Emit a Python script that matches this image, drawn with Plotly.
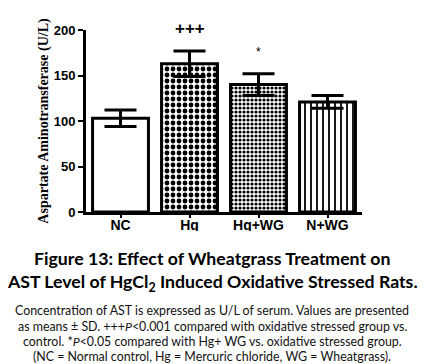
import plotly.graph_objects as go

groups = ["NC", "Hg", "Hg+WG", "N+WG"]
means = [103, 163, 140, 121]
sds = [9, 14, 12, 7]
sig_marks = ["", "+++", "*", ""]
y_ticks = [0, 50, 100, 150, 200]

patterns = [
    dict(shape="", bgcolor="white"),
    dict(shape=".", size=6, solidity=0.5, fgcolor="black", bgcolor="white", fillmode="replace"),
    dict(shape=".", size=4, solidity=0.5, fgcolor="black", bgcolor="white", fillmode="replace"),
    dict(shape="|", size=6, solidity=0.3, fgcolor="black", bgcolor="white", fillmode="replace"),
]

fig = go.Figure()
for g, m, s, p in zip(groups, means, sds, patterns):
    fig.add_trace(go.Bar(
        x=[g], y=[m],
        marker=dict(color="white", line=dict(color="black", width=3), pattern=p),
        error_y=dict(type="data", array=[s], color="black", thickness=3, width=16),
        showlegend=False,
    ))

W, H = 424, 364
L, R, T, B = 86, 62, 30, 152
pw, ph = W - L - R, H - T - B

def py(p):
    return (H - B - p) / ph

def px(p):
    return (p - L) / pw

annotations = []
sig_y = {"+++": (28, 17, "bold"), "*": (52, 12, "normal")}
for g, s in zip(groups, sig_marks):
    if s:
        yy, sz, wt = sig_y[s]
        annotations.append(dict(x=g, xref="x", y=py(yy), yref="paper", text=s, showarrow=False,
                                yanchor="middle", font=dict(family="Liberation Sans", size=sz, color="black", weight=wt)))

title_lines = [
    ("Figure 13: Effect of Wheatgrass Treatment on", 258),
    ("AST Level of HgCl<sub>2</sub> Induced Oxidative Stressed Rats.", 282.5),
]
caption_lines = [
    ("Concentration of AST is expressed as U/L of serum. Values are presented", 310),
    ("as means ± SD. +++<i>P</i>&lt;0.001 compared with oxidative stressed group vs.", 326),
    ("control. *<i>P</i>&lt;0.05 compared with Hg+ WG vs. oxidative stressed group.", 341.5),
    ("(NC = Normal control, Hg = Mercuric chloride, WG = Wheatgrass).", 356.5),
]
for t, yy in title_lines:
    annotations.append(dict(x=px(212), xref="paper", y=py(yy), yref="paper", text=t, showarrow=False,
                            xanchor="center", yanchor="middle",
                            font=dict(family="Lato", size=17.7, color="black", weight="bold")))
for t, yy in caption_lines:
    annotations.append(dict(x=px(212), xref="paper", y=py(yy), yref="paper", text=t, showarrow=False,
                            xanchor="center", yanchor="middle",
                            font=dict(family="Lato", size=12.4, color="#111111")))

fig.update_layout(
    width=W, height=H,
    margin=dict(l=L, r=R, t=T, b=B, pad=0),
    paper_bgcolor="white", plot_bgcolor="white",
    bargap=0.19,
    xaxis=dict(range=[-0.5, 3.5], showline=True, linewidth=3, linecolor="black",
               ticks="outside", ticklen=3, tickwidth=2, tickcolor="black", ticklabelstandoff=-5,
               tickfont=dict(family="Liberation Sans", size=14, color="black", weight="bold"),
               showgrid=False, zeroline=False),
    yaxis=dict(range=[0, 200], tickvals=y_ticks, showline=True, linewidth=3, linecolor="black",
               ticks="outside", ticklen=5, tickwidth=2, tickcolor="black",
               tickfont=dict(family="Liberation Sans", size=13, color="black", weight="bold"),
               showgrid=False, zeroline=False,
               title=dict(text="Aspartate Aminotransferase (U/L)", standoff=2,
                          font=dict(family="Liberation Serif", size=14, color="black", weight="bold"))),
    shapes=[dict(type="rect", xref="paper", yref="paper", x0=px(0), x1=px(W), y0=py(H), y1=py(231),
                 fillcolor="white", line=dict(width=0), layer="above")],
    annotations=annotations,
)

fig.write_html("out.html", config={"displayModeBar": False},
               post_script="document.body.style.margin='0';document.body.style.padding='0';")
